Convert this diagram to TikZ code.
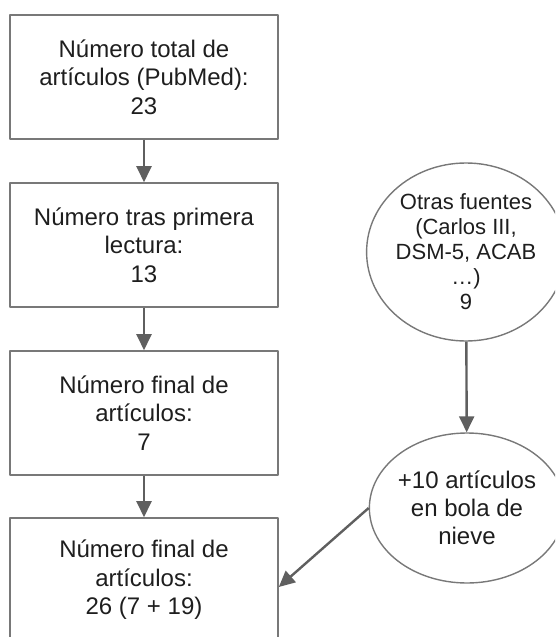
\documentclass[tikz,border=0pt]{standalone}
\usepackage{fontspec}
\setmainfont{Liberation Sans}
\usetikzlibrary{arrows.meta,shapes.geometric}
\definecolor{edgegray}{RGB}{120,120,120}
\definecolor{arrowgray}{RGB}{95,95,95}
\definecolor{inkgray}{RGB}{30,30,30}

\begin{document}
\begin{tikzpicture}[x=1pt,y=-1pt,line join=round,
    stepbox/.style={draw=edgegray,line width=1.6pt,minimum width=268pt,
      minimum height=124pt,inner sep=0pt,align=center,text=inkgray,
      font=\fontsize{24}{28.5}\selectfont},
    source/.style={ellipse,draw=edgegray,line width=1.4pt,inner sep=0pt,
      align=center,text=inkgray,font=\fontsize{24}{28}\selectfont},
    flow/.style={draw=arrowgray,line width=2.4pt,
      -{Triangle[length=16pt,width=15pt]}}]
    \clip (0,0) rectangle (555,637);
    \node[stepbox] (total) at (144,77)
      {Número total de\\artículos (PubMed):\\23};
    \node[stepbox] (lectura) at (144,245)
      {Número tras primera\\lectura:\\13};
    \node[stepbox] (final) at (144,413)
      {Número final de\\artículos:\\7};
    \node[stepbox] (suma) at (144,580)
      {Número final de\\artículos:\\26 (7 + 19)};
    \node[source,minimum width=178pt,minimum height=178pt,
      font=\fontsize{22}{25}\selectfont] (otras) at (466,252)
      {Otras fuentes\\(Carlos III,\\DSM-5, ACAB\\…)\\9};
    \node[source,minimum width=170pt,minimum height=150pt] (bola) at (467,508)
      {+10 artículos\\en bola de\\nieve};
    \draw[flow] (total) -- (lectura);
    \draw[flow] (lectura) -- (final);
    \draw[flow] (final) -- (suma);
    \draw[flow] (otras) -- (bola);
    \draw[flow] (bola.west) -- ([yshift=-7pt]suma.east);
  \end{tikzpicture}
\end{document}
